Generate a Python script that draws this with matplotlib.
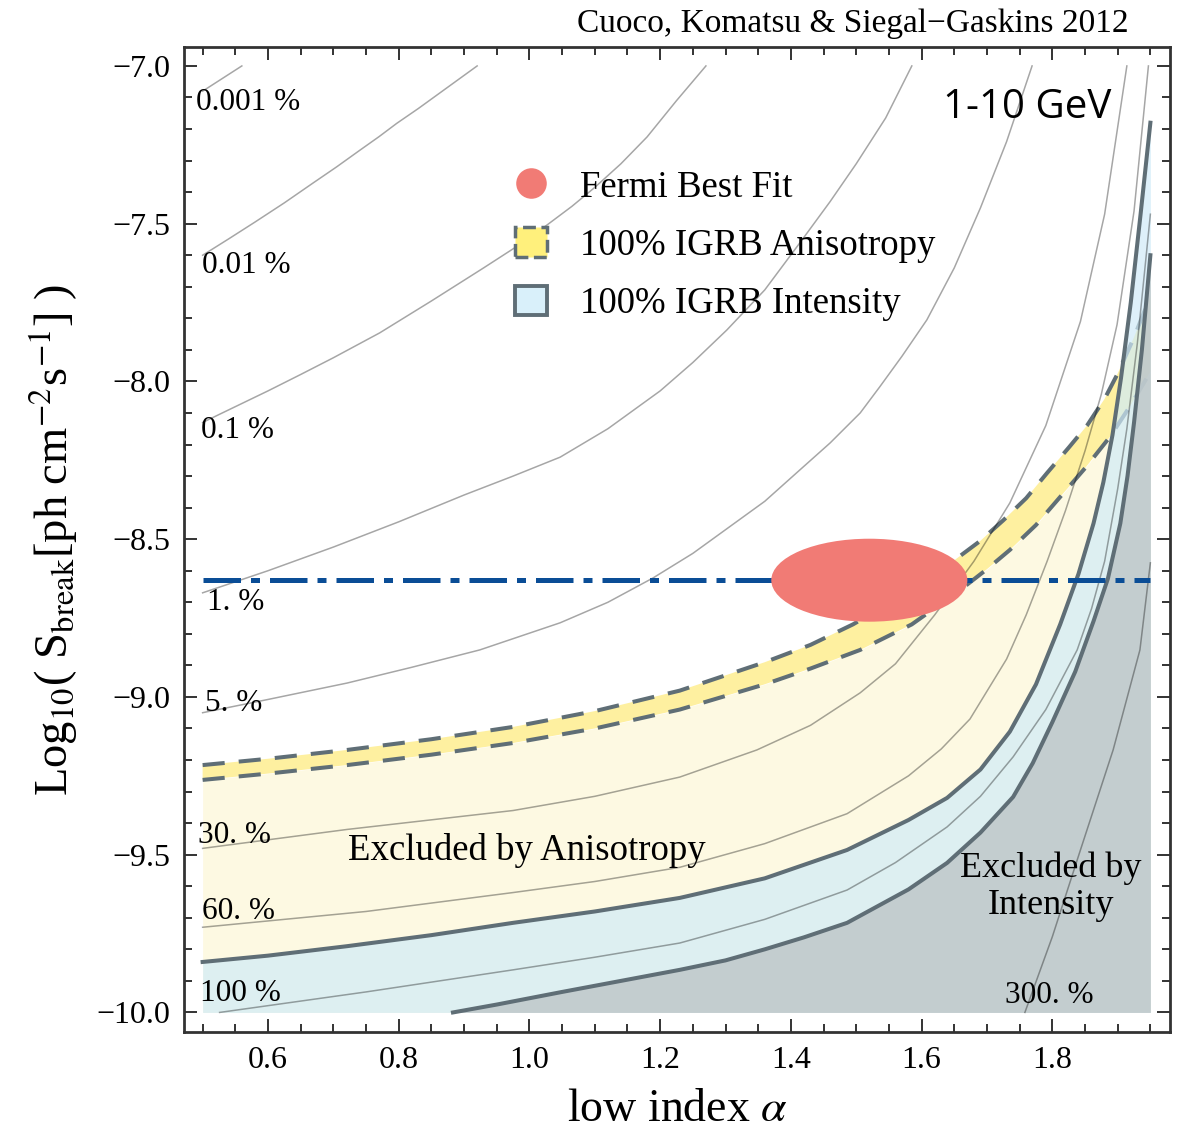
import numpy as np
import matplotlib
matplotlib.use('Agg')
import matplotlib.pyplot as plt
from matplotlib.patches import Ellipse, Patch
from matplotlib.lines import Line2D
from matplotlib.ticker import MultipleLocator

plt.rcParams['font.family'] = ['Liberation Serif', 'DejaVu Serif']
plt.rcParams['mathtext.fontset'] = 'stix'

# data range of the scan
X_MIN, X_MAX = 0.5, 1.95
Y_FLOOR = -10.0

# anisotropy band (dashed edges)
ani_hi_x = [0.5, 0.6, 0.721, 0.85, 0.975, 1.10, 1.23, 1.36, 1.43, 1.495, 1.575, 1.648, 1.69,
            1.725, 1.76, 1.792, 1.825, 1.853, 1.88, 1.90, 1.925, 1.95]
ani_hi_y = [-9.216, -9.196, -9.168, -9.134, -9.095, -9.045, -8.98, -8.89, -8.835, -8.77, -8.675,
            -8.57, -8.505, -8.44, -8.37, -8.29, -8.21, -8.14, -8.055, -7.975, -7.86, -7.73]
ani_lo_x = [0.5, 0.6, 0.721, 0.85, 0.975, 1.10, 1.23, 1.36, 1.43, 1.506, 1.585, 1.659, 1.70,
            1.735, 1.775, 1.812, 1.85, 1.888, 1.92, 1.95]
ani_lo_y = [-9.263, -9.243, -9.216, -9.183, -9.146, -9.10, -9.04, -8.96, -8.91, -8.851, -8.77,
            -8.661, -8.595, -8.534, -8.455, -8.366, -8.275, -8.176, -8.075, -7.97]

# intensity band (solid edges)
int_hi_x = [0.5, 0.6, 0.721, 0.85, 0.975, 1.10, 1.23, 1.36, 1.486, 1.58, 1.639, 1.69, 1.735,
            1.775, 1.812, 1.84, 1.863, 1.878, 1.892, 1.905, 1.92, 1.935, 1.95]
int_hi_y = [-9.84, -9.82, -9.79, -9.755, -9.716, -9.68, -9.637, -9.575, -9.485, -9.39, -9.32,
            -9.23, -9.11, -8.96, -8.77, -8.61, -8.45, -8.32, -8.17, -7.99, -7.75, -7.47, -7.18]
int_lo_x = [0.883, 0.95, 1.05, 1.14, 1.23, 1.30, 1.36, 1.42, 1.486, 1.58, 1.639, 1.69, 1.74,
            1.77, 1.80, 1.835, 1.863, 1.885, 1.904, 1.915, 1.925, 1.937, 1.95]
int_lo_y = [-10.0, -9.975, -9.935, -9.90, -9.865, -9.835, -9.80, -9.762, -9.716, -9.61, -9.526,
            -9.43, -9.317, -9.21, -9.08, -8.92, -8.76, -8.625, -8.45, -8.30, -8.13, -7.90, -7.6]

# percentage contours
c0001_x = [0.5, 0.53, 0.56]
c0001_y = [-7.08, -7.04, -7.0]
c001_x = [0.5, 0.54, 0.58, 0.625, 0.669, 0.705, 0.74, 0.77, 0.797, 0.83, 0.86, 0.89, 0.92]
c001_y = [-7.60, -7.548, -7.495, -7.434, -7.371, -7.32, -7.268, -7.224, -7.182, -7.135, -7.09,
          -7.045, -7.0]
c01_x = [0.5, 0.55, 0.6, 0.65, 0.7, 0.771, 0.85, 0.93, 0.98, 1.027, 1.065, 1.10, 1.14, 1.18,
         1.225, 1.27]
c01_y = [-8.13, -8.08, -8.03, -7.978, -7.925, -7.846, -7.745, -7.64, -7.573, -7.504, -7.445,
         -7.385, -7.31, -7.225, -7.11, -7.0]
c1_x = [0.5, 0.6, 0.7, 0.8, 0.9, 0.975, 1.047, 1.12, 1.2, 1.25, 1.302, 1.36, 1.414, 1.46, 1.5,
        1.545, 1.585]
c1_y = [-8.67, -8.60, -8.525, -8.445, -8.36, -8.30, -8.24, -8.15, -8.03, -7.94, -7.837, -7.71,
        -7.56, -7.43, -7.31, -7.165, -7.0]
c5_x = [0.5, 0.6, 0.721, 0.82, 0.924, 1.047, 1.12, 1.189, 1.25, 1.30, 1.36, 1.414, 1.46, 1.506,
        1.536, 1.57, 1.608, 1.65, 1.69, 1.73, 1.769]
c5_y = [-9.05, -9.008, -8.956, -8.906, -8.851, -8.765, -8.70, -8.623, -8.545, -8.47, -8.38,
        -8.28, -8.195, -8.10, -8.017, -7.92, -7.805, -7.64, -7.45, -7.24, -7.0]
c30_x = [0.5, 0.721, 0.975, 1.1, 1.23, 1.348, 1.43, 1.506, 1.56, 1.62, 1.68, 1.735, 1.79,
         1.843, 1.88, 1.914]
c30_y = [-9.48, -9.42, -9.36, -9.315, -9.254, -9.168, -9.09, -8.987, -8.895, -8.74, -8.57,
         -8.385, -8.14, -7.81, -7.47, -7.0]
c60_x = [0.5, 0.75, 0.975, 1.1, 1.23, 1.36, 1.486, 1.58, 1.63, 1.674, 1.73, 1.76, 1.792, 1.82,
         1.85, 1.875, 1.899, 1.925, 1.947]
c60_y = [-9.73, -9.68, -9.62, -9.585, -9.54, -9.465, -9.37, -9.25, -9.165, -9.07, -8.88, -8.74,
         -8.57, -8.41, -8.22, -8.04, -7.82, -7.46, -7.0]
c100_x = [0.526, 0.75, 0.975, 1.1, 1.23, 1.36, 1.486, 1.56, 1.639, 1.69, 1.74, 1.79, 1.838,
          1.86, 1.88, 1.90, 1.914, 1.93, 1.95]
c100_y = [-10.0, -9.935, -9.865, -9.825, -9.78, -9.705, -9.612, -9.525, -9.412, -9.315, -9.19,
          -9.04, -8.851, -8.72, -8.57, -8.34, -8.15, -7.88, -7.47]
c300_x = [1.758, 1.80, 1.843, 1.893, 1.934, 1.95]
c300_y = [-10.0, -9.76, -9.485, -9.168, -8.851, -8.575]

contours = [(c0001_x, c0001_y), (c001_x, c001_y), (c01_x, c01_y), (c1_x, c1_y),
            (c5_x, c5_y), (c30_x, c30_y), (c60_x, c60_y), (c100_x, c100_y),
            (c300_x, c300_y)]

# contour labels: text, alpha, log S
contour_labels = ['0.001 %', '0.01 %', '0.1 %', '1. %', '5. %', '30. %', '60. %', '100 %', '300. %']
label_x = [0.490, 0.499, 0.497, 0.507, 0.504, 0.493, 0.499, 0.496, 1.728]
label_y = [-7.117, -7.634, -8.154, -8.702, -9.022, -9.44, -9.681, -9.941, -9.945]

# Fermi best fit
fit_alpha, fit_logS = 1.52, -8.63
fit_width, fit_height = 0.30, 0.263

PALE = '#fdf9e2'
BAND = '#fef0a0'
BLUE = '#d0ebf8'
GRAY = '#bdc5c7'
EDGE = '#5f6e76'
DASHDOT = '#0a4d96'
FIT = '#f17b75'

fig = plt.figure(figsize=(11.79, 11.32), dpi=100)
ax = fig.add_axes([0.15606, 0.08834, 0.83630, 0.87014])

# excluded regions
ax.fill_between(ani_lo_x, ani_lo_y, Y_FLOOR, color=PALE, lw=0, zorder=1)
ax.fill(np.r_[ani_hi_x, ani_lo_x[::-1]], np.r_[ani_hi_y, ani_lo_y[::-1]],
        color=BAND, lw=0, zorder=2)
for xs, ys in [(ani_hi_x, ani_hi_y), (ani_lo_x, ani_lo_y)]:
    ax.plot(xs, ys, color=EDGE, lw=2.9, ls=(0, (5.5, 3.5)), zorder=3)
ax.fill_between(int_hi_x, int_hi_y, Y_FLOOR, color=BLUE, alpha=0.7, lw=0, zorder=4)
ax.fill_between(int_lo_x, int_lo_y, Y_FLOOR, color=GRAY, alpha=0.8, lw=0, zorder=4)
for xs, ys in [(int_hi_x, int_hi_y), (int_lo_x, int_lo_y)]:
    ax.plot(xs, ys, color=EDGE, lw=2.9, zorder=6)

for xs, ys in contours:
    ax.plot(xs, ys, color='k', alpha=0.35, lw=1.1, zorder=5)
for txt, lx, ly in zip(contour_labels, label_x, label_y):
    ax.text(lx, ly, txt, fontsize=22.5, ha='left', va='center', zorder=9)

ax.plot([X_MIN, X_MAX], [fit_logS, fit_logS], color=DASHDOT, lw=3.6,
        ls=(0, (7.5, 2.0, 1.8, 2.0)), zorder=7)
ax.add_patch(Ellipse((fit_alpha, fit_logS), fit_width, fit_height,
                     fc=FIT, ec='none', zorder=8))

ax.text(0.722, -9.488, 'Excluded by Anisotropy', fontsize=26.5, ha='left', va='center', zorder=9)
ax.text(1.798, -9.602, 'Excluded by\nIntensity', fontsize=26, ha='center', va='center',
        linespacing=1.15, zorder=9)
ax.text(1.891, -7.133, '1-10 GeV', family='Open Sans', fontsize=29,
        ha='right', va='center', zorder=9)

handles = [Line2D([], [], ls='none', marker='o', ms=22, mfc=FIT, mec='none'),
           Patch(facecolor='#fff07c', edgecolor=EDGE, ls='--', lw=2.5),
           Patch(facecolor='#d9f0fa', edgecolor=EDGE, lw=2.8)]
labels = ['Fermi Best Fit', '100% IGRB Anisotropy', '100% IGRB Intensity']
ax.legend(handles, labels, loc='upper left', bbox_to_anchor=(0.336, 0.876),
          frameon=False, fontsize=26.5, handlelength=0.85, handleheight=0.85,
          handletextpad=0.9, labelspacing=0.62, borderpad=0, borderaxespad=0)

ax.set_xlim(0.4715, 1.980)
ax.set_ylim(-10.062, -6.940)
ax.set_xticks([0.6, 0.8, 1.0, 1.2, 1.4, 1.6, 1.8])
ax.set_yticks([-10.0, -9.5, -9.0, -8.5, -8.0, -7.5, -7.0])
ax.xaxis.set_minor_locator(MultipleLocator(0.05))
ax.yaxis.set_minor_locator(MultipleLocator(0.1))
ax.tick_params(which='both', direction='in', top=True, right=True,
               labelsize=23, width=1.4, color='#333333', pad=10)
ax.tick_params(which='major', length=9.6)
ax.tick_params(which='minor', length=6)
for sp in ax.spines.values():
    sp.set_linewidth(2.0)
    sp.set_color('#333333')

ax.set_xlabel(r'low index $\alpha$', fontsize=33, labelpad=10)
ax.set_ylabel(r'Log$_{10}$( S$_{\rm break}$[ph cm$^{-2}$s$^{-1}$] )', fontsize=33.5, labelpad=12)
fig.text(0.957, 0.979, 'Cuoco, Komatsu & Siegal\u2212Gaskins 2012',
         ha='right', va='center', fontsize=24)

fig.savefig('out.png', dpi=100)
